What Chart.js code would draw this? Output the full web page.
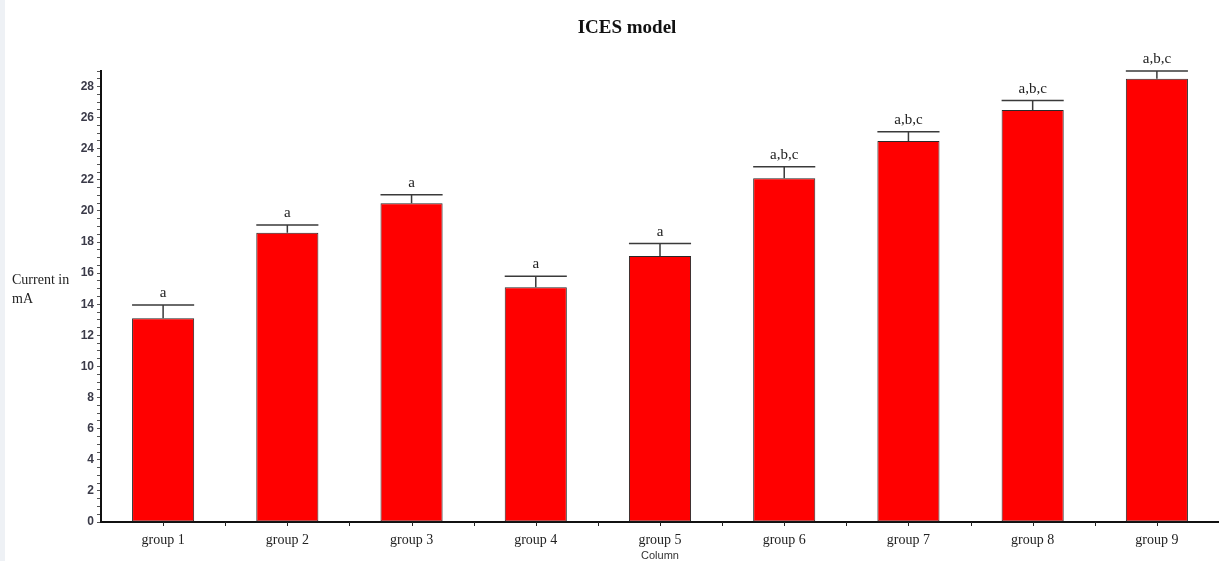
<!DOCTYPE html>
<html>
<head>
<meta charset="utf-8">
<title>ICES model</title>
<script src="https://cdn.jsdelivr.net/npm/chart.js@4.4.1/dist/chart.umd.min.js"></script>
<style>
  html, body { margin: 0; padding: 0; background: #ffffff; }
  #wrap { width: 1219px; height: 561px; }
</style>
</head>
<body>
<div id="wrap"><canvas id="chart" width="1219" height="561"></canvas></div>
<script>
// Groups along the x axis
const categories = ['group 1', 'group 2', 'group 3', 'group 4', 'group 5', 'group 6', 'group 7', 'group 8', 'group 9'];
// Mean current (mA) per group
const means = [13.1, 18.6, 20.5, 15.1, 17.1, 22.1, 24.5, 26.5, 28.5];
// Upper error (mA) per group
const errors = [0.85, 0.5, 0.55, 0.7, 0.8, 0.75, 0.6, 0.6, 0.5];
// Significance letters above each bar
const letters = ['a', 'a', 'a', 'a', 'a', 'a,b,c', 'a,b,c', 'a,b,c', 'a,b,c'];
// Labelled y-axis values
const yTickLabels = [0, 2, 4, 6, 8, 10, 12, 14, 16, 18, 20, 22, 24, 26, 28];

const SERIF = "'Liberation Serif', 'Times New Roman', serif";
const SANS = "'Liberation Sans Narrow', 'Liberation Sans', Arial, sans-serif";

const annotations = {
  id: 'annotations',
  beforeDraw(chart) {
    const ctx = chart.ctx;
    ctx.save();
    ctx.fillStyle = '#eef1f5';
    ctx.fillRect(0, 0, 5, chart.height);
    ctx.restore();
  },
  afterDatasetsDraw(chart) {
    const ctx = chart.ctx;
    const xs = chart.scales.x;
    const ys = chart.scales.y;
    const meta = chart.getDatasetMeta(0);
    ctx.save();
    // error bars with caps
    ctx.strokeStyle = '#3a3a3a';
    ctx.lineWidth = 1.5;
    meta.data.forEach((bar, i) => {
      const x = bar.x;
      const w = bar.width;
      const yTop = ys.getPixelForValue(means[i]);
      const yErr = ys.getPixelForValue(means[i] + errors[i]);
      ctx.beginPath();
      ctx.moveTo(x, yTop);
      ctx.lineTo(x, yErr);
      ctx.moveTo(x - w / 2, yErr);
      ctx.lineTo(x + w / 2, yErr);
      ctx.stroke();
      // significance letters
      ctx.fillStyle = '#222';
      ctx.font = '15px ' + SERIF;
      ctx.textAlign = 'center';
      ctx.textBaseline = 'alphabetic';
      ctx.fillText(letters[i], x, yErr - 8);
    });
    // x-axis tick marks at bar centres and between categories
    ctx.strokeStyle = '#222';
    ctx.lineWidth = 1;
    const bottom = chart.chartArea.bottom;
    for (let i = 0; i < categories.length; i++) {
      const c = xs.getPixelForValue(i);
      const half = (xs.getPixelForValue(1) - xs.getPixelForValue(0)) / 2;
      [c, c + half].forEach(px => {
        ctx.beginPath();
        ctx.moveTo(Math.round(px) + 0.5, bottom);
        ctx.lineTo(Math.round(px) + 0.5, bottom + 4);
        ctx.stroke();
      });
    }
    ctx.restore();
  },
  afterDraw(chart) {
    const ctx = chart.ctx;
    ctx.save();
    ctx.fillStyle = '#111';
    ctx.font = 'bold 19px ' + SERIF;
    ctx.textAlign = 'center';
    ctx.textBaseline = 'middle';
    ctx.fillText('ICES model', 627, 28);

    ctx.font = '14px ' + SERIF;
    ctx.textAlign = 'left';
    ctx.fillStyle = '#222';
    ctx.fillText('Current in', 12, 280);
    ctx.fillText('mA', 12, 299);

    ctx.font = '11px ' + SANS;
    ctx.textAlign = 'center';
    ctx.fillStyle = '#333';
    const xs = chart.scales.x;
    ctx.fillText('Column', (xs.left + xs.right) / 2, 556);
    ctx.restore();
  }
};

new Chart(document.getElementById('chart'), {
  type: 'bar',
  data: {
    labels: categories,
    datasets: [{
      data: means,
      backgroundColor: '#ff0000',
      borderColor: '#2a2a2a',
      borderWidth: 1,
      borderSkipped: false,
      barPercentage: 0.5,
      categoryPercentage: 1.0
    }]
  },
  options: {
    responsive: false,
    animation: false,
    layout: { padding: { top: 71, right: 0, bottom: 0, left: 0 } },
    plugins: {
      legend: { display: false },
      title: { display: false },
      tooltip: { enabled: false }
    },
    scales: {
      x: {
        offset: true,
        afterFit(scale) { scale.height = 39; },
        border: { display: true, color: '#111', width: 2 },
        grid: { display: false },
        ticks: {
          color: '#222',
          font: { family: SERIF, size: 14 },
          padding: 2,
          maxRotation: 0,
          autoSkip: false
        }
      },
      y: {
        min: 0,
        max: 29,
        afterFit(scale) { scale.width = 101; },
        afterBuildTicks(scale) {
          const t = [];
          for (let v = 0; v <= 29; v += 0.5) t.push({ value: v });
          scale.ticks = t;
        },
        border: { display: true, color: '#111', width: 2 },
        grid: {
          drawOnChartArea: false,
          tickLength: 4,
          tickColor: '#555',
          tickWidth: 1
        },
        ticks: {
          autoSkip: false,
          color: '#3a3a48',
          padding: 3,
          font: { family: SANS, size: 12, weight: 'bold' },
          callback(v) { return yTickLabels.includes(v) ? String(v) : ''; }
        }
      }
    }
  },
  plugins: [annotations]
});
</script>
</body>
</html>
